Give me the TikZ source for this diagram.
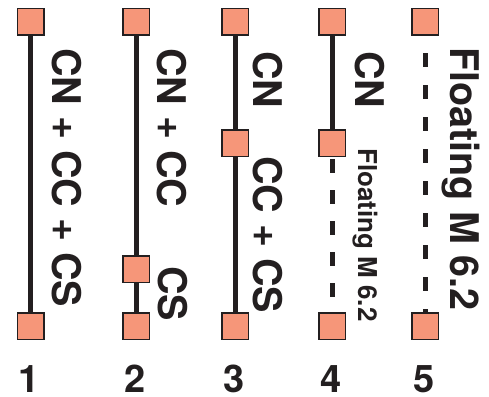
\documentclass[tikz,border=0pt]{standalone}
\usepackage{fontspec}
\setmainfont{TeX Gyre Heros}
\definecolor{pinkpad}{HTML}{F69679}
\definecolor{inkdark}{HTML}{231F20}

\begin{document}
\begin{tikzpicture}[x=1pt,y=-1pt,
  pad/.style={draw=inkdark, line width=1.5pt, fill=pinkpad, minimum size=26.5pt, inner sep=0pt, outer sep=0pt},
  wire/.style={draw=inkdark, line width=5pt},
  vlabel/.style={rotate=-90, anchor=base west, inner sep=0pt, text=inkdark,
                 font=\bfseries\fontsize{39.5}{40}\selectfont},
  vsmall/.style={vlabel, font=\bfseries\fontsize{26}{28}\selectfont},
  num/.style={anchor=base, inner sep=0pt, text=inkdark,
              font=\bfseries\fontsize{38}{40}\selectfont}]
\useasboundingbox (0,0) rectangle (489,396);

% terminal pads
\node[pad] (t1) at (30.5,22) {};
\node[pad] (b1) at (30.5,326) {};
\node[pad] (t2) at (136,22) {};
\node[pad] (m2) at (136,269) {};
\node[pad] (b2) at (136,326) {};
\node[pad] (t3) at (235,22) {};
\node[pad] (m3) at (235,143) {};
\node[pad] (b3) at (235,326) {};
\node[pad] (t4) at (332,22) {};
\node[pad] (m4) at (332,143) {};
\node[pad] (b4) at (332,326) {};
\node[pad] (t5) at (425,22) {};
\node[pad] (b5) at (425,326) {};

% conductors
\draw[wire] (t1) -- (b1);
\draw[wire] (t2) -- (m2);
\draw[wire] (m2) -- (b2);
\draw[wire] (t3) -- (m3);
\draw[wire] (m3) -- (b3);
\draw[wire] (t4) -- (m4);
\draw[wire, dash pattern=on 14pt off 17pt, dash phase=28pt] (m4) -- (b4);
\draw[wire, dash pattern=on 14pt off 18pt, dash phase=14pt] (t5) -- (b5);

% vertical labels
\node[vlabel] (l1) at (52,48) {CN + CC + CS};
\node[vlabel] (l2a) at (157,48) {CN + CC};
\node[vlabel] (l2b) at (158,266) {CS};
\node[vlabel] (l3a) at (253,51) {CN};
\node[vlabel] (l3b) at (253,156) {CC + CS};
\node[vlabel] (l4a) at (355,51) {CN};
\node[vsmall] (l4b) at (358,148) {Floating M 6.2};
\node[vlabel] (l5) at (450,47) {Floating M 6.2};

% column numbers
\node[num] (n1) at (29.5,392) {1};
\node[num] (n2) at (135,392) {2};
\node[num] (n3) at (234,392) {3};
\node[num] (n4) at (331,392) {4};
\node[num] (n5) at (424,392) {5};
\end{tikzpicture}
\end{document}
